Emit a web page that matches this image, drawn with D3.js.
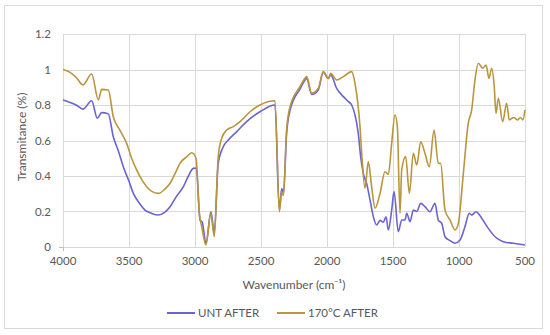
<!DOCTYPE html>
<html>
<head>
<meta charset="utf-8">
<script src="https://cdn.jsdelivr.net/npm/d3@7"></script>
<style>
  body { margin: 0; background: #fff; }
  svg text { font-family: Lato, "Liberation Sans", sans-serif; fill: #595959; }
</style>
</head>
<body>
<div class="chart"></div>
<script>
const width = 550;
const height = 335;
const margin = { top: 34, right: 25, bottom: 88, left: 63 };

// wavenumber (cm-1) and transmitance
const untWave = [4000, 3950, 3900, 3848, 3783, 3740, 3707, 3657, 3619, 3580, 3543, 3500, 3467, 3420, 3379, 3330, 3278,
  3230, 3189, 3140, 3088, 3050, 3013, 2990,
  2962, 2945, 2917, 2879, 2854, 2824, 2786, 2748, 2684, 2609, 2508, 2394, 2361, 2343, 2330, 2306, 2280,
  2205, 2167, 2154, 2116, 2066, 2028, 1990, 1972, 1927, 1876, 1838, 1813, 1788, 1763, 1745, 1725, 1700,
  1674, 1649, 1624, 1598, 1573, 1553, 1535, 1510, 1492, 1460, 1434, 1409, 1396, 1371, 1346, 1320, 1290,
  1258, 1220, 1182, 1157, 1131, 1106, 1068, 1030, 992, 955, 922, 904, 871, 828, 778, 727, 664, 588, 500];
const untVal = [0.828, 0.815, 0.8, 0.777, 0.824, 0.725, 0.757, 0.75, 0.621, 0.54, 0.452, 0.37, 0.302, 0.245, 0.208, 0.19, 0.18,
  0.195, 0.227, 0.285, 0.34, 0.4, 0.443, 0.445,
  0.152, 0.14, 0.02, 0.199, 0.08, 0.471, 0.565, 0.603, 0.65, 0.706, 0.762, 0.8, 0.21, 0.33, 0.3, 0.64, 0.77,
  0.89, 0.94, 0.95, 0.86, 0.885, 0.985, 0.95, 0.97, 0.894, 0.847, 0.819, 0.8, 0.744, 0.64, 0.509, 0.415, 0.359,
  0.265, 0.171, 0.124, 0.15, 0.14, 0.17, 0.096, 0.208, 0.312, 0.086, 0.152, 0.152, 0.19, 0.143, 0.208, 0.2, 0.246,
  0.227, 0.199, 0.246, 0.152, 0.133, 0.058, 0.036, 0.021, 0.039, 0.114, 0.19, 0.18, 0.199, 0.162, 0.105, 0.058, 0.03, 0.021, 0.011];

const hotWave = [4000, 3950, 3900, 3848, 3783, 3732, 3707, 3657, 3619, 3570, 3518, 3480, 3442, 3400, 3366, 3330, 3278,
  3230, 3189, 3150, 3114, 3060, 3025, 2992,
  2967, 2949, 2917, 2881, 2854, 2824, 2798, 2760, 2710, 2659, 2583, 2508, 2394, 2361, 2343, 2330, 2306, 2280,
  2205, 2167, 2154, 2116, 2066, 2028, 1990, 1972, 1927, 1876, 1813, 1788, 1750, 1737, 1712, 1687, 1662,
  1636, 1598, 1561, 1535, 1510, 1485, 1467, 1447, 1434, 1404, 1376, 1346, 1320, 1290, 1258, 1225, 1189,
  1157, 1139, 1106, 1068, 1030, 1005, 967, 930, 904, 879, 854, 820, 795, 773, 752, 733, 720, 702, 669,
  639, 619, 585, 558, 535, 516, 500];
const hotVal = [1.0, 0.985, 0.955, 0.913, 0.975, 0.828, 0.888, 0.884, 0.734, 0.66, 0.584, 0.5, 0.434, 0.375, 0.34, 0.315, 0.302,
  0.325, 0.359, 0.415, 0.471, 0.51, 0.531, 0.5,
  0.19, 0.114, 0.011, 0.19, 0.058, 0.509, 0.612, 0.659, 0.678, 0.706, 0.762, 0.8, 0.824, 0.199, 0.312, 0.29, 0.66, 0.79,
  0.903, 0.95, 0.96, 0.866, 0.894, 0.988, 0.95, 0.978, 0.941, 0.96, 0.988, 0.922, 0.678, 0.528, 0.331, 0.481, 0.34,
  0.218, 0.302, 0.424, 0.41, 0.584, 0.744, 0.678, 0.19, 0.434, 0.509, 0.302, 0.528, 0.462, 0.593, 0.528, 0.452, 0.659,
  0.471, 0.471, 0.208, 0.152, 0.096, 0.133, 0.415, 0.697, 0.772, 0.941, 1.035, 1.007, 1.025, 0.95, 1.007, 0.903, 0.753, 0.838, 0.706,
  0.81, 0.716, 0.73, 0.716, 0.73, 0.716, 0.772];

const seriesNames = ["UNT AFTER", "170°C AFTER"];
const seriesColors = ["#6a64d2", "#b8963c"];
const xTicks = [4000, 3500, 3000, 2500, 2000, 1500, 1000, 500];
const yTicks = [0, 0.2, 0.4, 0.6, 0.8, 1, 1.2];

const svg = d3.select(".chart")
  .append("svg")
  .attr("width", width)
  .attr("height", height);

// outer chart border
svg.append("rect")
  .attr("x", 4.5)
  .attr("y", 5.5)
  .attr("width", 538)
  .attr("height", 323)
  .attr("fill", "none")
  .attr("stroke", "#d9d9d9");

const x = d3.scaleLinear()
  .domain([4000, 500])
  .range([margin.left, width - margin.right]);

const y = d3.scaleLinear()
  .domain([0, 1.2])
  .range([height - margin.bottom, margin.top]);

// gridlines
svg.append("g")
  .selectAll("line.hgrid")
  .data(yTicks)
  .join("line")
  .attr("class", "hgrid")
  .attr("x1", x(4000))
  .attr("x2", x(500))
  .attr("y1", d => Math.round(y(d)) + 0.5)
  .attr("y2", d => Math.round(y(d)) + 0.5)
  .attr("stroke", "#d9d9d9");

svg.append("g")
  .selectAll("line.vgrid")
  .data(xTicks)
  .join("line")
  .attr("class", "vgrid")
  .attr("x1", d => Math.round(x(d)) + 0.5)
  .attr("x2", d => Math.round(x(d)) + 0.5)
  .attr("y1", y(1.2))
  .attr("y2", y(0))
  .attr("stroke", "#d9d9d9");

// small ticks at the origin corner
svg.append("line")
  .attr("x1", x(4000) - 4).attr("x2", x(4000))
  .attr("y1", Math.round(y(0)) + 0.5).attr("y2", Math.round(y(0)) + 0.5)
  .attr("stroke", "#bfbfbf");
svg.append("line")
  .attr("x1", Math.round(x(4000)) + 0.5).attr("x2", Math.round(x(4000)) + 0.5)
  .attr("y1", y(0)).attr("y2", y(0) + 4)
  .attr("stroke", "#bfbfbf");

// tick labels
svg.append("g")
  .selectAll("text")
  .data(xTicks)
  .join("text")
  .attr("x", d => x(d))
  .attr("y", y(0) + 18)
  .attr("text-anchor", "middle")
  .attr("font-size", "11.5")
  .text(d => d);

svg.append("g")
  .selectAll("text")
  .data(yTicks)
  .join("text")
  .attr("x", 51)
  .attr("y", d => y(d) + 4)
  .attr("text-anchor", "end")
  .attr("font-size", "11.5")
  .text(d => d);

// axis titles
svg.append("text")
  .attr("x", x(2250))
  .attr("y", y(0) + 42)
  .attr("text-anchor", "middle")
  .attr("font-size", "12")
  .text("Wavenumber (cm\u207B\u00B9)");

svg.append("text")
  .attr("transform", `translate(${26}, ${137}) rotate(-90)`)
  .attr("text-anchor", "middle")
  .attr("font-size", "12")
  .text("Transmitance (%)");

// lines
const line = d3.line()
  .curve(d3.curveMonotoneX)
  .x(d => x(d[0]))
  .y(d => y(d[1]));

const series = [
  d3.zip(untWave, untVal),
  d3.zip(hotWave, hotVal)
];

svg.append("g")
  .selectAll("path.line")
  .data(series)
  .join("path")
  .attr("class", "line")
  .attr("fill", "none")
  .attr("stroke", (d, i) => seriesColors[i])
  .attr("stroke-width", 1.6)
  .attr("stroke-linejoin", "round")
  .attr("d", d => line(d));

// legend
const legendX = [167, 277];
const legend = svg.append("g")
  .selectAll("g")
  .data(seriesNames)
  .join("g")
  .attr("transform", (d, i) => `translate(${legendX[i]}, ${313})`);

legend.append("line")
  .attr("x1", 0)
  .attr("x2", 28)
  .attr("stroke", (d, i) => seriesColors[i])
  .attr("stroke-width", 2);

legend.append("text")
  .attr("x", 31)
  .attr("y", 4)
  .attr("font-size", "11.5")
  .text(d => d);
</script>
</body>
</html>
